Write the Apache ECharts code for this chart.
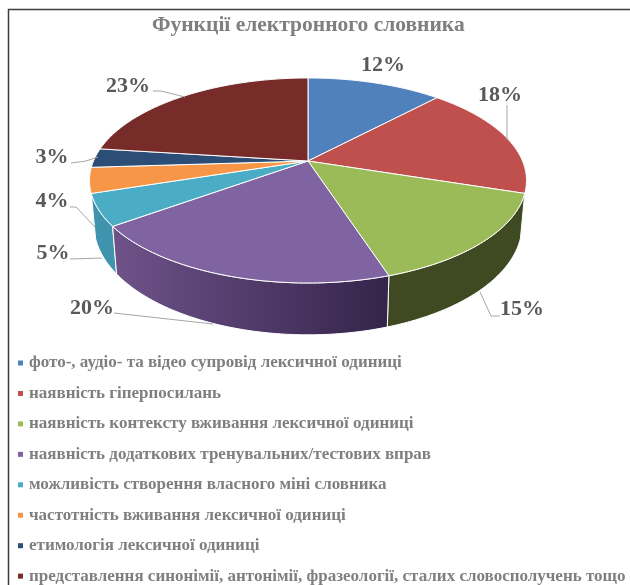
<!DOCTYPE html>
<html>
<head>
<meta charset="utf-8">
<style>html,body{margin:0;padding:0;background:#fff}#chart{width:630px;height:585px}</style>
<script src="https://cdn.jsdelivr.net/npm/echarts@6/dist/echarts.min.js"></script>
</head>
<body>
<div id="chart"></div>
<script>
// Chart values
const categories = [
  'фото-, аудіо- та відео супровід лексичної одиниці',
  'наявність гіперпосилань',
  'наявність контексту вживання лексичної одиниці',
  'наявність додаткових тренувальних/тестових вправ',
  'можливість створення власного міні словника',
  'частотність вживання лексичної одиниці',
  'етимологія лексичної одиниці',
  'представлення синонімії, антонімії, фразеології, сталих словосполучень тощо'
];
const shares = [12, 18, 15, 20, 5, 4, 3, 23];
const topColors = ['#4f81bd', '#c0504d', '#9bbb59', '#8064a2', '#4bacc6', '#f79646', '#2c4d75', '#772c2a'];
const wallColors = ['#2f4d71', '#73302e', '#3f4a22', null, '#3f93ad', '#94592a', '#1a2e46', '#471a19'];

// Label placement: text centre and leader-line vertices
const labelLayout = [
  { at: [383, 65], line: [] },
  { at: [500, 95], line: [[507, 105], [507, 140]] },
  { at: [522, 309], line: [[500, 316], [491, 316], [480, 292]] },
  { at: [92, 308], line: [[114, 313], [213, 324]] },
  { at: [53, 253], line: [[70, 259], [102, 258]] },
  { at: [52, 201], line: [[70, 207], [76, 207], [95, 227]] },
  { at: [52, 157], line: [[71, 163], [86, 161], [98, 157]] },
  { at: [128, 86], line: [[153, 91], [161, 91], [185, 97]] }
];

// Perspective disc: apex, plan radius, vertical squash, perspective strength,
// and the drop, squash and shrink of the lower rim
const disc = { cx: 308, cy: 161, r: 214.5, sy: 98.8, p: 0.19, drop: 42.7, lowerSy: 1.075, shrink: 0.98 };
const total = shares.reduce((a, b) => a + b, 0);

function project(angle, radius, lower) {
  const X = Math.sin(angle) * radius;
  const Y = -Math.cos(angle) * radius;
  const k = 1 / (1 - disc.p * Y);
  return [
    disc.cx + disc.r * X * k * (lower ? disc.shrink : 1),
    disc.cy + disc.sy * Y * k * (lower ? disc.lowerSy : 1) + (lower ? disc.drop : 0)
  ];
}

function arc(a0, a1, lower) {
  const n = Math.max(2, Math.ceil(Math.abs(a1 - a0) / (Math.PI / 180)));
  const pts = [];
  for (let i = 0; i <= n; i++) pts.push(project(a0 + (a1 - a0) * i / n, 1, lower));
  return pts;
}

function wallFill(index) {
  if (wallColors[index]) return wallColors[index];
  return {
    type: 'linear', x: 115, y: 0, x2: 390, y2: 0, global: true,
    colorStops: [{ offset: 0, color: '#6e5289' }, { offset: 1, color: '#33244a' }]
  };
}

function sliceRenderer(index) {
  return function (params, api) {
    const value = api.value(0);
    const before = shares.slice(0, index).reduce((a, b) => a + b, 0);
    const a0 = before / total * Math.PI * 2;
    const a1 = (before + value) / total * Math.PI * 2;
    const top = arc(a0, a1, false);
    const bottom = arc(a0, a1, true).reverse();
    // Walls nearer the viewer stack above the ones behind them
    const nearness = 1 - Math.cos((a0 + a1) / 2);
    const children = [
      {
        type: 'polygon', z2: 2 + Math.round(nearness * 10),
        shape: { points: top.concat(bottom) },
        style: { fill: wallFill(index), stroke: '#fff', lineWidth: 1 }
      },
      {
        type: 'polygon', z2: 30,
        shape: { points: [[disc.cx, disc.cy]].concat(top) },
        style: { fill: topColors[index], stroke: '#fff', lineWidth: 1 }
      }
    ];
    const lay = labelLayout[index];
    if (lay.line.length) {
      children.push({
        type: 'polyline', z2: 40,
        shape: { points: lay.line },
        style: { fill: 'none', stroke: '#a6a6a6', lineWidth: 1 }
      });
    }
    children.push({
      type: 'text', z2: 41,
      style: {
        text: value + '%', x: lay.at[0], y: lay.at[1], align: 'center', verticalAlign: 'middle',
        fill: '#595959', font: 'bold 22px "Liberation Serif"'
      }
    });
    return { type: 'group', children: children };
  };
}

const chart = echarts.init(document.getElementById('chart'), null, { renderer: 'canvas' });
chart.setOption({
  animation: false,
  backgroundColor: '#fff',
  title: {
    text: 'Функції електронного словника',
    left: 147, top: 9,
    textStyle: { fontFamily: 'Liberation Serif', fontWeight: 'bold', fontSize: 21.5, color: '#7f7f7f' }
  },
  legend: {
    orient: 'vertical', left: 18, top: 354.5, width: 612, height: 400, padding: 0,
    icon: 'rect', itemWidth: 5, itemHeight: 5, itemGap: 13.45,
    selectedMode: false,
    data: categories,
    textStyle: { fontFamily: 'Liberation Serif', fontWeight: 'bold', fontSize: 17, color: '#7f7f7f', padding: [0, 0, 0, 1] }
  },
  graphic: [{
    type: 'rect', silent: true, z: -1,
    shape: { x: 8.5, y: 9.5, width: 640, height: 600 },
    style: { fill: 'none', stroke: '#3c3c3c', lineWidth: 1.5 }
  }],
  series: categories.map((name, i) => ({
    type: 'custom',
    name: name,
    coordinateSystem: 'none',
    itemStyle: { color: topColors[i] },
    renderItem: sliceRenderer(i),
    data: [[shares[i]]]
  }))
});
</script>
</body>
</html>
